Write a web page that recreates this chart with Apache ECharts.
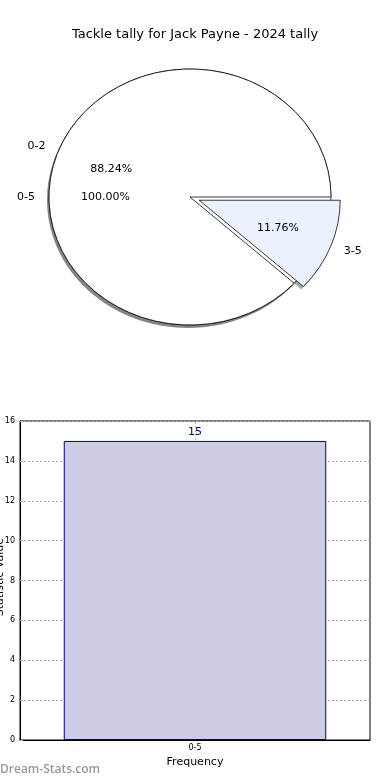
<!DOCTYPE html>
<html><head><meta charset="utf-8">
<script src="https://cdn.jsdelivr.net/npm/echarts@6/dist/echarts.min.js"></script>
<style>html,body{margin:0;padding:0;background:#fff}#c{width:390px;height:780px}</style>
</head><body><div id="c"></div>
<script>
// ---- data ----
const titleText = 'Tackle tally for Jack Payne - 2024 tally';
const totalCategories = ['0-5'];
const totalValues = [15];
const pieCategories = ['0-2', '3-5'];
const pieValues = [15, 2];
const barCategories = ['0-5'];
const barValues = [15];
const yAxisName = 'Statistic Value';
const xAxisName = 'Frequency';
const watermark = 'Dream-Stats.com';

// ---- styles / layout ----
const FONT = 'DejaVu Sans';
const CX = 190, CY = 197, RX = 141, RY = 128;
const totalExplode = [0];
const pieExplode = [0, 0.07];
const totalFills = ['#ffffff'];
const pieFills = ['#ffffff', '#ebf1fd'];

function geom(values, i, explodes) {
  const total = values.reduce((a, b) => a + b, 0);
  let s = 0; for (let k = 0; k < i; k++) s += values[k];
  const a1 = s / total * 2 * Math.PI;
  const a2 = (s + values[i]) / total * 2 * Math.PI;
  const mid = (a1 + a2) / 2;
  const e = explodes[i] || 0;
  return { a1, a2, mid, e, pct: values[i] / total * 100 };
}

function makeRender(values, cats, explodes, fills, layer) {
  return function (params, api) {
    const i = params.dataIndex;
    const g = geom(values, i, explodes);
    const ox = g.e * RX * Math.cos(g.mid), oy = -g.e * RX * Math.sin(g.mid);
    if (layer === 'text') {
      const f1 = 1.1 + g.e, f2 = 0.6 + g.e;
      const c = Math.cos(g.mid), s = Math.sin(g.mid);
      return { type: 'group', children: [
        { type: 'text', x: CX + f1 * RX * c, y: CY - f1 * RY * s,
          style: { text: cats[i], fill: '#000', font: '11px ' + FONT,
                   align: c < 0 ? 'right' : 'left', verticalAlign: 'middle' } },
        { type: 'text', x: CX + f2 * RX * c, y: CY - f2 * RY * s,
          style: { text: g.pct.toFixed(2) + '%', fill: '#000', font: '11px ' + FONT,
                   align: 'center', verticalAlign: 'middle' } }
      ]};
    }
    const isShadow = layer === 'shadow';
    return {
      type: 'group', x: CX + (isShadow ? -2 : 0), y: CY + (isShadow ? 3 : 0),
      scaleX: 1, scaleY: RY / RX,
      children: [{
        type: 'sector',
        shape: { cx: ox, cy: oy, r: RX, r0: 0, startAngle: -g.a2, endAngle: -g.a1, clockwise: true },
        style: isShadow
          ? { fill: '#666', opacity: 0.55, stroke: null }
          : { fill: fills[i], stroke: '#000', lineWidth: 0.8, strokeNoScale: true }
      }]
    };
  };
}

const series = [];
let z = 1;
['shadow', 'wedge', 'text'].forEach(layer => {
  [[totalValues, totalCategories, totalExplode, totalFills],
   [pieValues, pieCategories, pieExplode, pieFills]].forEach(([vals, cats, ex, fills]) => {
    series.push({
      type: 'custom', coordinateSystem: 'none', z: z++, silent: true,
      data: vals.map(v => [v]),
      renderItem: makeRender(vals, cats, ex, fills, layer)
    });
  });
});

series.push({
  type: 'bar', xAxisIndex: 0, yAxisIndex: 0, z: 20,
  data: barValues, barWidth: '75%',
  itemStyle: { color: '#ccccE6', borderColor: '#000080', borderWidth: 1 },
  label: { show: true, position: 'top', distance: 3, color: '#000080', fontSize: 11, fontFamily: FONT },
  markLine: {
    silent: true, symbol: 'none', label: { show: false },
    lineStyle: { color: '#bbb', type: [2, 2], width: 1 },
    data: [{ xAxis: barCategories[0] }]
  }
});

const chart = echarts.init(document.getElementById('c'), null, { renderer: 'canvas' });
chart.setOption({
  animation: false,
  backgroundColor: '#fff',
  title: { text: titleText, left: 'center', top: 23,
           textStyle: { fontSize: 13, fontWeight: 'normal', color: '#000', fontFamily: FONT } },
  grid: { left: 20, top: 421, width: 350, height: 319, show: true, containLabel: false,
          outerBoundsMode: 'none',
          borderColor: '#000', borderWidth: 1, backgroundColor: 'transparent' },
  xAxis: { type: 'category', data: barCategories, gridIndex: 0,
           axisLine: { lineStyle: { color: '#000' } }, axisTick: { show: false },
           axisLabel: { fontSize: 8, color: '#000', margin: 4, fontFamily: FONT },
           name: xAxisName, nameLocation: 'middle', nameGap: 17, nameMoveOverlap: false,
           nameTextStyle: { fontSize: 11, color: '#000', fontFamily: FONT },
           splitLine: { show: false } },
  yAxis: { type: 'value', min: 0, max: 16, interval: 2, gridIndex: 0,
           axisLine: { show: true, lineStyle: { color: '#000' } },
           axisTick: { show: true, length: 3, inside: true, lineStyle: { color: '#aaa' } },
           axisLabel: { fontSize: 8, color: '#000', margin: 5, fontFamily: FONT },
           splitLine: { show: true, lineStyle: { color: '#aaa', type: [2, 2] } } },
  graphic: [
    { type: 'text', left: 0, top: 764,
      style: { text: watermark, fill: '#999', font: '600 12px "Open Sans"' } },
    { type: 'text', left: -5, top: 538, rotation: Math.PI / 2, z: 50,
      style: { text: yAxisName, fill: '#000', font: '11px ' + FONT } }
  ],
  series: series
});
</script></body></html>
